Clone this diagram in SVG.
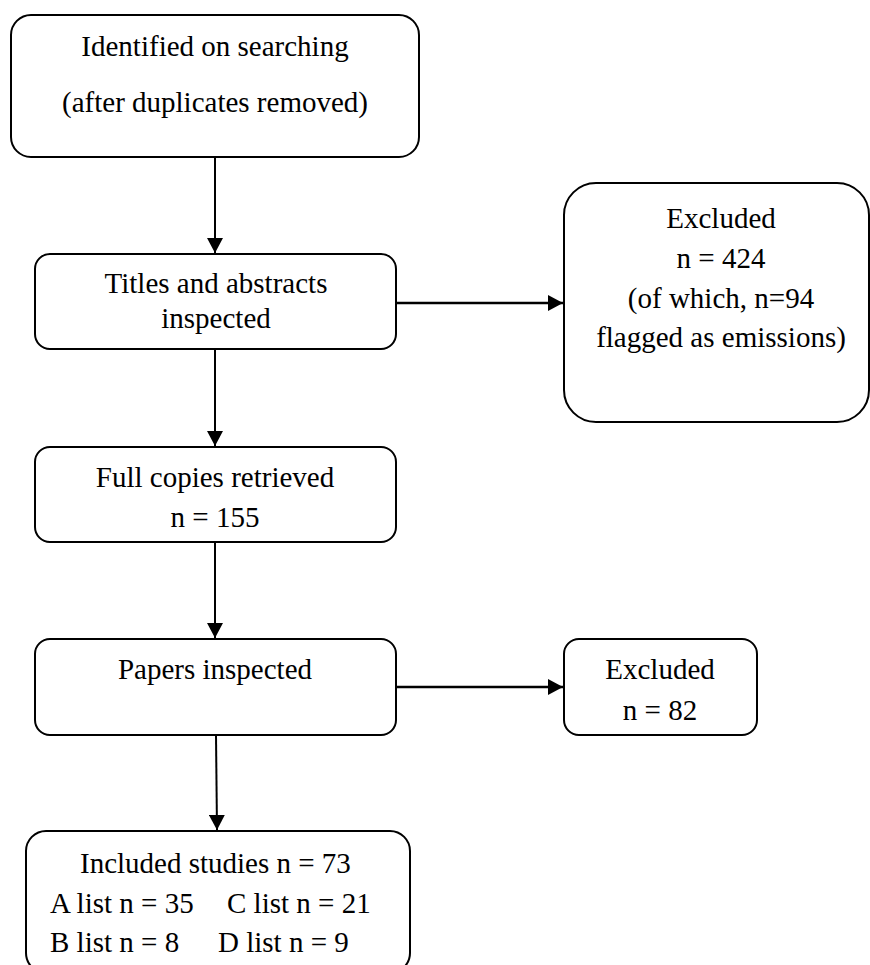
<svg xmlns="http://www.w3.org/2000/svg" width="870" height="965" viewBox="0 0 870 965">
<style>
.box{fill:#fff;stroke:#000;stroke-width:2}
text{font-family:"Liberation Serif","Times New Roman",serif;font-size:29px;fill:#000}
.c{text-anchor:middle}
.ln{stroke:#000;stroke-width:2;fill:none}
.lh{stroke:#000;stroke-width:2.7;fill:none}
</style>
<defs>
<marker id="ah" viewBox="0 0 15 16" refX="15" refY="8" markerWidth="15" markerHeight="16" markerUnits="userSpaceOnUse" orient="auto">
<path d="M0,0 L15,8 L0,16 Z" fill="#000"/>
</marker>
</defs>
<g id="connectors">
<line class="ln" x1="215" y1="157" x2="215" y2="253" marker-end="url(#ah)"/>
<line class="ln" x1="215" y1="349" x2="215" y2="446" marker-end="url(#ah)"/>
<line class="ln" x1="215" y1="542" x2="215" y2="638" marker-end="url(#ah)"/>
<line class="ln" x1="216" y1="735" x2="217" y2="830" marker-end="url(#ah)"/>
<line class="lh" x1="396" y1="303" x2="563" y2="303" marker-end="url(#ah)"/>
<line class="lh" x1="396" y1="687" x2="563" y2="687" marker-end="url(#ah)"/>
</g>
<g id="identified">
<rect class="box" x="11" y="15" width="408" height="142" rx="20"/>
<text class="c" x="215" y="56">Identified on searching</text>
<text class="c" x="215" y="112">(after duplicates removed)</text>
</g>
<g id="titles">
<rect class="box" x="35" y="254" width="361" height="95" rx="15"/>
<text class="c" x="216" y="293">Titles and abstracts</text>
<text class="c" x="216" y="328">inspected</text>
</g>
<g id="excluded1">
<rect class="box" x="564" y="183" width="305" height="239" rx="32"/>
<text class="c" x="721" y="228">Excluded</text>
<text class="c" x="721" y="268">n = 424</text>
<text class="c" x="721" y="308">(of which, n=94</text>
<text class="c" x="721" y="347">flagged as emissions)</text>
</g>
<g id="fullcopies">
<rect class="box" x="35" y="447" width="361" height="95" rx="15"/>
<text class="c" x="215" y="487">Full copies retrieved</text>
<text class="c" x="215" y="527">n = 155</text>
</g>
<g id="papers">
<rect class="box" x="35" y="639" width="361" height="96" rx="15"/>
<text class="c" x="215" y="679">Papers inspected</text>
</g>
<g id="excluded2">
<rect class="box" x="564" y="639" width="193" height="96" rx="15"/>
<text class="c" x="660" y="679">Excluded</text>
<text class="c" x="660" y="720">n = 82</text>
</g>
<g id="included">
<rect class="box" x="26" y="831" width="384" height="142" rx="20"/>
<text x="80" y="873">Included studies n = 73</text>
<text x="50" y="913">A list n = 35</text>
<text x="227" y="913">C list n = 21</text>
<text x="50" y="952">B list n = 8</text>
<text x="218" y="952">D list n = 9</text>
</g>
</svg>
